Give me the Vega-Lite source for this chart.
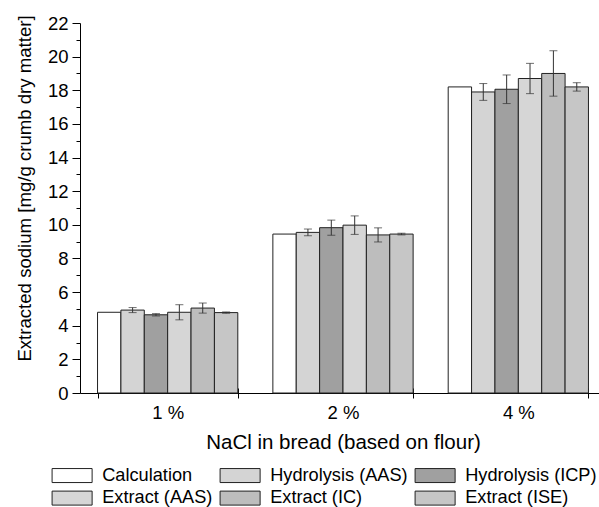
{
  "$schema": "https://vega.github.io/schema/vega-lite/v6.json",
  "width": 526,
  "height": 370,
  "padding": {"left": 15, "top": 14, "right": 0, "bottom": 0},
  "background": "white",
  "config": {
    "font": "Liberation Sans",
    "view": {"stroke": null},
    "axis": {"labelColor": "black", "titleColor": "black", "domainColor": "black", "tickColor": "black", "grid": false, "labelFont": "Liberation Sans", "titleFont": "Liberation Sans", "titleFontWeight": "normal"}
  },
  "data": {
    "values": [
      {"group": "1 %", "method": "Calculation", "value": 4.8, "lo": null, "hi": null},
      {"group": "1 %", "method": "Hydrolysis (AAS)", "value": 4.93, "lo": 4.78, "hi": 5.08},
      {"group": "1 %", "method": "Hydrolysis (ICP)", "value": 4.65, "lo": 4.58, "hi": 4.72},
      {"group": "1 %", "method": "Extract (AAS)", "value": 4.8, "lo": 4.35, "hi": 5.25},
      {"group": "1 %", "method": "Extract (IC)", "value": 5.05, "lo": 4.75, "hi": 5.35},
      {"group": "1 %", "method": "Extract (ISE)", "value": 4.78, "lo": 4.74, "hi": 4.82},
      {"group": "2 %", "method": "Calculation", "value": 9.45, "lo": null, "hi": null},
      {"group": "2 %", "method": "Hydrolysis (AAS)", "value": 9.55, "lo": 9.35, "hi": 9.75},
      {"group": "2 %", "method": "Hydrolysis (ICP)", "value": 9.83, "lo": 9.38, "hi": 10.28},
      {"group": "2 %", "method": "Extract (AAS)", "value": 9.98, "lo": 9.43, "hi": 10.53},
      {"group": "2 %", "method": "Extract (IC)", "value": 9.4, "lo": 8.98, "hi": 9.82},
      {"group": "2 %", "method": "Extract (ISE)", "value": 9.45, "lo": 9.4, "hi": 9.5},
      {"group": "4 %", "method": "Calculation", "value": 18.2, "lo": null, "hi": null},
      {"group": "4 %", "method": "Hydrolysis (AAS)", "value": 17.9, "lo": 17.4, "hi": 18.4},
      {"group": "4 %", "method": "Hydrolysis (ICP)", "value": 18.06, "lo": 17.21, "hi": 18.91},
      {"group": "4 %", "method": "Extract (AAS)", "value": 18.7, "lo": 17.8, "hi": 19.6},
      {"group": "4 %", "method": "Extract (IC)", "value": 19.0, "lo": 17.65, "hi": 20.35},
      {"group": "4 %", "method": "Extract (ISE)", "value": 18.2, "lo": 17.95, "hi": 18.45}
    ]
  },
  "encoding": {
    "x": {"field": "group", "type": "nominal", "scale": {"paddingInner": 0.2, "paddingOuter": 0.1}},
    "xOffset": {"field": "method", "type": "nominal", "scale": {"domain": ["Calculation", "Hydrolysis (AAS)", "Hydrolysis (ICP)", "Extract (AAS)", "Extract (IC)", "Extract (ISE)"], "paddingInner": 0, "paddingOuter": 0}}
  },
  "layer": [
    {
      "mark": {"type": "bar", "stroke": "#222", "strokeWidth": 1, "opacity": 1},
      "encoding": {
        "x": {"field": "group", "type": "nominal", "axis": {"title": "NaCl in bread (based on flour)", "labelAngle": 0, "tickBand": "extent", "tickSize": 5, "labelFontSize": 18.5, "labelPadding": 5, "titleFontSize": 20.5, "titlePadding": 11, "orient": "bottom"}},
        "y": {"field": "value", "type": "quantitative", "scale": {"domain": [0, 22], "nice": false}, "axis": {"title": "Extracted sodium [mg/g crumb dry matter]", "values": [0, 2, 4, 6, 8, 10, 12, 14, 16, 18, 20, 22], "tickSize": 8, "labelPadding": 4, "labelFontSize": 18.5, "titleFontSize": 18.6, "titlePadding": 13, "titleY": 165, "orient": "left"}},
        "fill": {
          "field": "method", "type": "nominal",
          "scale": {"domain": ["Calculation", "Hydrolysis (AAS)", "Hydrolysis (ICP)", "Extract (AAS)", "Extract (IC)", "Extract (ISE)"], "range": ["#ffffff", "#d4d4d4", "#a0a0a0", "#d6d6d6", "#bdbdbd", "#c6c6c6"]},
          "legend": {"title": null, "orient": "none", "direction": "horizontal", "legendX": -17, "legendY": 443, "columns": 3, "symbolType": "M-2.86,-1H2.86V1H-2.86Z", "symbolSize": 196, "symbolStrokeColor": "#222", "symbolStrokeWidth": 1, "symbolOpacity": 1, "labelFontSize": 18.2, "labelOffset": 21, "labelColor": "black", "columnPadding": 5, "rowPadding": 3, "labelFont": "Liberation Sans", "labelLimit": 300}
        }
      }
    },
    {
      "mark": {"type": "rule", "color": "#333", "strokeWidth": 1},
      "encoding": {
        "x": {"field": "group", "type": "nominal", "axis": {"title": null, "labels": false, "domain": false, "tickBand": "extent", "tickSize": -5, "orient": "bottom"}},
        "y": {"field": "lo", "type": "quantitative", "axis": {"title": null, "labels": false, "domain": false, "values": [1, 3, 5, 7, 9, 11, 13, 15, 17, 19, 21], "tickSize": 4, "orient": "left"}},
        "y2": {"field": "hi"}
      }
    },
    {
      "mark": {"type": "tick", "color": "#333", "size": 8, "thickness": 1, "orient": "horizontal"},
      "encoding": {
        "x": {"field": "group", "type": "nominal", "axis": null},
        "y": {"field": "hi", "type": "quantitative", "axis": null}
      }
    },
    {
      "mark": {"type": "tick", "color": "#333", "size": 8, "thickness": 1, "orient": "horizontal"},
      "encoding": {
        "x": {"field": "group", "type": "nominal", "axis": null},
        "y": {"field": "lo", "type": "quantitative", "axis": null}
      }
    }
  ],
  "resolve": {"axis": {"x": "independent", "y": "independent"}}
}
